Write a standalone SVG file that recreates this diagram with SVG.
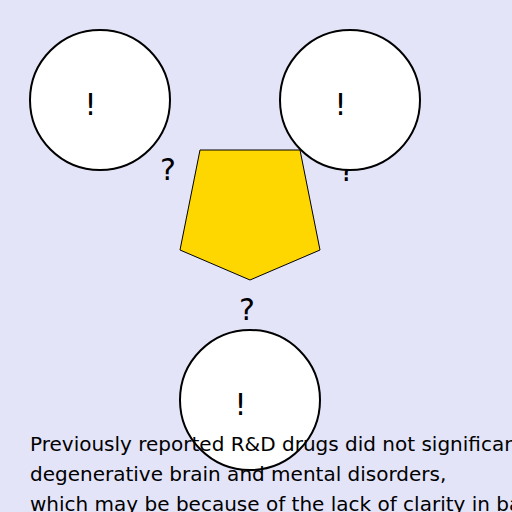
<svg xmlns="http://www.w3.org/2000/svg" width="512" height="512" viewBox="0 0 512 512">
<style>
.node circle{fill:#fff;stroke:#000;stroke-width:2}
.mark{font-family:"DejaVu Sans",sans-serif;font-size:30px;fill:#000;text-anchor:middle}
.body{font-family:"DejaVu Sans",sans-serif;font-size:20px;fill:#000}
</style>
<rect width="512" height="512" fill="#e4e4f9"/>
<g id="center">
<polygon points="200,150 300,150 320,250 250,280 180,250" fill="#ffd700" stroke="#000" stroke-width="1"/>
</g>
<g id="connectors">
<text class="mark" x="168" y="180">?</text>
<text class="mark" x="347" y="181">?</text>
<text class="mark" x="247" y="320">?</text>
</g>
<g id="node1" class="node">
<circle cx="100" cy="100" r="70"/>
<text class="mark" x="90.5" y="115">!</text>
</g>
<g id="node2" class="node">
<circle cx="350" cy="100" r="70"/>
<text class="mark" x="340.5" y="115">!</text>
</g>
<g id="node3" class="node">
<circle cx="250" cy="400" r="70"/>
<text class="mark" x="240.5" y="415">!</text>
</g>
<g id="caption">
<text class="body" x="30" y="451">Previously reported R&amp;D drugs did not significantly</text>
<text class="body" x="30" y="481">degenerative brain and mental disorders,</text>
<text class="body" x="30" y="511">which may be because of the lack of clarity in basic</text>
</g>
</svg>
